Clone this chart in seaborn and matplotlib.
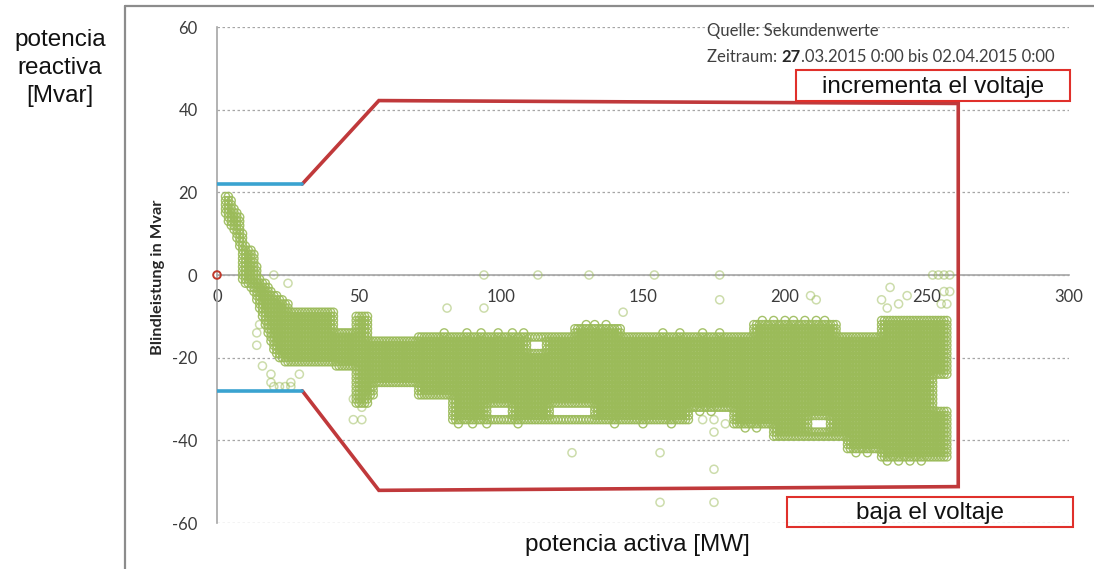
import numpy as np
import pandas as pd
import matplotlib
matplotlib.use("Agg")
import matplotlib.pyplot as plt
from matplotlib.patches import Rectangle
from matplotlib.lines import Line2D
from matplotlib.ticker import MultipleLocator
import seaborn as sns

# ---- measured operating points (1 s values) ----
# dense region: blocks of active power P [MW] (inclusive range) with the
# reactive power span Q [Mvar] covered in that block
block_p_from = [3, 4, 5, 6, 7, 8, 9, 10, 11, 12, 13, 14, 15, 16, 17, 18, 19, 20, 21, 22,
                24, 26, 42, 49, 54, 56, 71, 83, 110, 126, 143, 167, 182, 189, 196, 209,
                219, 222, 234, 253, 253]
block_p_to = [3, 4, 5, 6, 7, 8, 9, 10, 11, 12, 13, 14, 15, 16, 17, 18, 19, 20, 21, 23,
              25, 41, 48, 53, 55, 70, 82, 109, 125, 142, 166, 181, 188, 195, 208, 218,
              221, 233, 252, 257, 257]
block_q_low = [15, 13, 12, 11, 9, 7, -1, -2, -2, -3, -4, -6, -8, -10, -12, -14, -16, -18, -19, -20,
               -21, -21, -22, -31, -29, -26, -29, -35, -35, -35, -35, -32, -36, -36, -39, -39,
               -39, -42, -44, -24, -44]
block_q_high = [19, 19, 18, 16, 15, 14, 10, 7, 6, 6, 5, 2, -1, -2, -2, -3, -4, -5, -5, -6,
                -7, -9, -14, -10, -16, -16, -15, -15, -15, -13, -15, -15, -15, -12, -12, -12,
                -15, -15, -11, -11, -33]

# empty pockets inside the dense region
gap_p_from = [96, 118, 110, 209]
gap_p_to = [103, 132, 115, 215]
gap_q_low = [-34, -34, -18, -37]
gap_q_high = [-32, -32, -16, -35]

# ragged rim of the dense region
rim_p = [80, 88, 93, 99, 104, 108, 130, 133, 137, 157, 163, 171, 177,
         192, 196, 200, 203, 207, 211, 214,
         85, 90, 95, 106, 140, 150, 160, 170, 174, 186, 190, 225, 229, 236, 240, 244, 248]
rim_q = [-14, -14, -14, -14, -14, -14, -12, -12, -12, -14, -14, -14, -14,
         -11, -11, -11, -11, -11, -11, -11,
         -36, -36, -36, -36, -36, -36, -36, -33, -33, -37, -37, -43, -43, -45, -45, -45, -45]

# sparse measurements outside the dense region
single_p = [15, 14, 14, 16, 19, 19, 20, 22, 24, 26, 26, 29, 25, 20, 48, 51, 48, 51,
            81, 94, 94, 113, 131, 154, 177, 143, 177, 125, 156, 175, 156, 175,
            171, 175, 179, 183, 175,
            209, 211, 237, 234, 236, 240, 243, 252, 254, 256, 258, 256, 258, 255, 257]
single_q = [-12, -14, -17, -22, -24, -26, -27, -27, -27, -27, -26, -24, -2, 0, -30, -32, -35, -35,
            -8, -8, 0, 0, 0, 0, 0, -9, -6, -43, -43, -47, -55, -55,
            -35, -35, -36, -35, -38,
            -5, -6, -3, -6, -8, -7, -5, 0, 0, 0, 0, -4, -4, -7, -7]

# characteristic limits (P, Q)
limit_p = [30, 57, 261, 261, 57, 30]
limit_q = [22, 42.2, 41.5, -51.2, -52.1, -28]
band_p = [0, 30]
band_q_upper = 22
band_q_lower = -28

x_ticks = [0, 50, 100, 150, 200, 250, 300]
y_ticks = [-60, -40, -20, 0, 20, 40, 60]

# ---- expand the dense blocks onto the 1 MW x 1 Mvar measurement raster ----
pts = []
for p0, p1, q0, q1 in zip(block_p_from, block_p_to, block_q_low, block_q_high):
    for p in range(p0, p1 + 1):
        for q in range(q0, q1 + 1):
            in_gap = any(g0 <= p <= g1 and h0 <= q <= h1
                         for g0, g1, h0, h1 in zip(gap_p_from, gap_p_to, gap_q_low, gap_q_high))
            if not in_gap:
                pts.append((p, q))
pts += list(zip(rim_p, rim_q))
dense = pd.DataFrame(pts, columns=["P", "Q"])
sparse = pd.DataFrame({"P": single_p, "Q": single_q})

# ---- figure ----
sns.set_theme(style="white")
plt.rcParams["font.family"] = ["Lato", "DejaVu Sans"]
plt.rcParams["axes.unicode_minus"] = False

W, H = 1094, 569
fig = plt.figure(figsize=(W / 100, H / 100), dpi=100)
fig.patch.set_facecolor("white")


def fx(px):
    return px / W


def fy(py):
    return 1 - py / H


ax = fig.add_axes([fx(217), fy(523), fx(1069) - fx(217), fy(27) - fy(523)])
ax.set_facecolor("white")

green = "#9bbb59"
sns.scatterplot(data=dense, x="P", y="Q", ax=ax, marker="o", s=34,
                facecolor="none", edgecolor=green, linewidth=1.0, alpha=0.9,
                legend=False, zorder=3)
sns.scatterplot(data=sparse, x="P", y="Q", ax=ax, marker="o", s=34,
                facecolor="none", edgecolor=green, linewidth=1.1, alpha=0.5,
                legend=False, zorder=3)

# origin marker
ax.scatter([0], [0], marker="o", s=30, facecolor="none", edgecolor="#c0392b",
           linewidth=1.4, zorder=6, clip_on=False)

# characteristic limits
ax.plot(limit_p, limit_q, color="#c0393b", lw=2.6, solid_joinstyle="miter", zorder=5)
ax.plot(band_p, [band_q_upper] * 2, color="#3aa3d0", lw=2.6, zorder=5)
ax.plot(band_p, [band_q_lower] * 2, color="#3aa3d0", lw=2.6, zorder=5)

# axes styling
ax.set_xlim(0, 300)
ax.set_ylim(-60, 60)
ax.set_xticks(x_ticks)
ax.set_yticks(y_ticks)
ax.xaxis.set_minor_locator(MultipleLocator(10))
ax.yaxis.set_minor_locator(MultipleLocator(4))
for s in ["top", "right"]:
    ax.spines[s].set_visible(False)
ax.spines["bottom"].set_position(("data", 0))
for s in ["bottom", "left"]:
    ax.spines[s].set_color("#a6a6a6")
    ax.spines[s].set_linewidth(1.2)
    ax.spines[s].set_zorder(2)
ax.yaxis.grid(True, which="major", linestyle=(0, (2, 2)), color="#a6a6a6", lw=0.9)
ax.xaxis.grid(False)
ax.set_axisbelow(True)

tick_txt = "#3c3c3c"
ax.tick_params(axis="x", which="major", direction="inout", length=8, width=1,
               color="#a6a6a6", labelsize=12, labelcolor=tick_txt, pad=6)
ax.tick_params(axis="x", which="minor", direction="inout", length=6, width=1,
               color="#a6a6a6")
ax.tick_params(axis="y", which="major", direction="out", length=6, width=1,
               color="#a6a6a6", labelsize=12, labelcolor=tick_txt, pad=8)
ax.tick_params(axis="y", which="minor", direction="in", length=5, width=1,
               color="#a6a6a6")
ax.set_xlabel("")
ax.set_ylabel("")

fig.text(fx(158), fy(277), "Blindleistung in Mvar", rotation=90, ha="center",
         va="center", fontsize=11.8, fontweight="bold", color="#262626")

# data source header
hdr_color = "#404040"
fig.text(fx(707), fy(31), "Quelle: Sekundenwerte", ha="left", va="center",
         fontsize=12, color=hdr_color)
t1 = fig.text(fx(707), fy(57), "Zeitraum: ", ha="left", va="center",
              fontsize=12, color=hdr_color)
t2 = ax.annotate("27", xy=(1, 0), xycoords=t1, ha="left", va="bottom",
                 fontsize=12, fontweight="bold", color="#262626")
ax.annotate(".03.2015 0:00 bis 02.04.2015 0:00", xy=(1, 0), xycoords=t2,
            ha="left", va="bottom", fontsize=12, color=hdr_color)

# annotation boxes
arial = ["Liberation Sans", "DejaVu Sans"]
box_red = "#e0302b"
for (x0, y0, x1, y1, label) in [(796, 70, 1070, 101, "incrementa el voltaje"),
                                (787, 497, 1073, 527, "baja el voltaje")]:
    fig.add_artist(Rectangle((fx(x0), fy(y1)), fx(x1) - fx(x0), fy(y0) - fy(y1),
                             transform=fig.transFigure, fill=False,
                             edgecolor=box_red, lw=1.5, zorder=10))
    fig.text(fx((x0 + x1) / 2), fy((y0 + y1) / 2 + 1), label, ha="center",
             va="center", fontsize=17.5, family=arial, color="#111111", zorder=11)

fig.text(fx(637), fy(545), "potencia activa [MW]", ha="center", va="center",
         fontsize=17.5, family=arial, color="#111111")
fig.text(fx(60), fy(68), "potencia\nreactiva\n[Mvar]", ha="center", va="center",
         multialignment="center", linespacing=1.35, fontsize=17.5, family=arial,
         color="#111111")

# outer frame of the chart area
frame = "#8c8c8c"
fig.add_artist(Line2D([fx(125), fx(125)], [0, fy(6)], transform=fig.transFigure,
                      color=frame, lw=1.6))
fig.add_artist(Line2D([fx(125), 1], [fy(6), fy(6)], transform=fig.transFigure,
                      color=frame, lw=1.6))

fig.savefig("out.png", dpi=100, facecolor="white")
